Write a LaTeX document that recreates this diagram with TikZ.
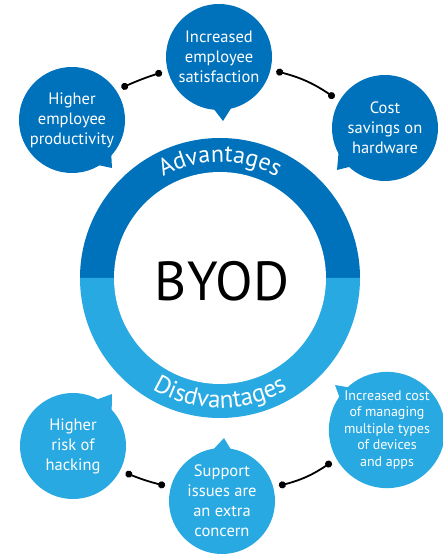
\documentclass[tikz,border=0pt]{standalone}
\usepackage{fontspec}
\setmainfont{PT Sans}
\newfontfamily\arcfont[LetterSpace=5.0]{PT Sans}
\usepackage{tikz}
\usetikzlibrary{calc}
\usetikzlibrary{arrows.meta}
\usetikzlibrary{decorations.text}
\usetikzlibrary{backgrounds}
\definecolor{advblue}{RGB}{0,114,188}
\definecolor{disblue}{RGB}{41,169,225}

\begin{document}
\begin{tikzpicture}[x=1pt,y=1pt,
       bubble/.style={circle, minimum size=106pt, inner sep=0pt, outer sep=6pt, text=white, align=center, font=\fontsize{16.5}{20}\selectfont},
       adv/.style={bubble, fill=advblue},
       dis/.style={bubble, fill=disblue},
       link/.style={black, line width=1.8pt, {Circle[length=7pt]}-{Circle[length=7pt]}}]
       \useasboundingbox (0,0) rectangle (443,560);
       \coordinate (O) at (220,282);

       \fill[advblue] (O) ++(0:140) arc[start angle=0, end angle=180, radius=140pt] -- cycle;
       \fill[disblue] (O) ++(180:140) arc[start angle=180, end angle=360, radius=140pt] -- cycle;
       \fill[white] (O) circle (106pt);
       \node (byod) at (222,279) {\fontsize{55}{55}\selectfont BYOD};

       \path[decorate, decoration={text along path, text align=center, text color=white,
              text={|\arcfont\fontsize{24}{24}\selectfont|Advantages}}]
              (O) ++(155:116) arc[start angle=155, end angle=25, radius=116pt];
       \path[decorate, decoration={text along path, text align=center, text color=white,
              text={|\arcfont\fontsize{25}{25}\selectfont|Disdvantages}}]
              (O) ++(198:130) arc[start angle=198, end angle=342, radius=130pt];

       \node[adv] (A1) at (72,440) {Higher\\employee\\productivity};
       \node[adv] (A2) at (219,503) {Increased\\employee\\satisfaction};
       \node[adv] (A3) at (385,432) {Cost\\savings on\\hardware};
       \node[dis] (D1) at (73,114) {Higher\\risk of\\hacking};
       \node[dis] (D2) at (222,59) {Support\\issues are\\an extra\\concern};
       \node[dis, font=\fontsize{14}{16.5}\selectfont] (D3) at (387,130) {Increased cost\\of managing\\multiple types\\of devices\\and apps};

       \begin{scope}[on background layer]
       \fill[advblue] ($(A1)+(-41:52)$) -- (112,392) -- ($(A1)+(-60:52)$) -- cycle;
       \fill[advblue] ($(A2)+(-76:52)$) -- (223,439) -- ($(A2)+(-96:52)$) -- cycle;
       \fill[advblue] ($(A3)+(207:52)$) -- (337,390) -- ($(A3)+(228:52)$) -- cycle;
       \fill[disblue] ($(D1)+(42:52)$) -- (112,166) -- ($(D1)+(63:52)$) -- cycle;
       \fill[disblue] ($(D2)+(80:52)$) -- (224,122) -- ($(D2)+(100:52)$) -- cycle;
       \fill[disblue] ($(D3)+(152:50)$) -- (335,175) -- ($(D3)+(125:50)$) -- cycle;
       \end{scope}

       \draw[link] (A1.33) to[bend left=3] (A2.195);
       \draw[link] (A2.-14) to[bend left=10] (A3.149);
       \draw[link] (D1.-27) to[bend right=4] (D2.165);
       \draw[link] (D2.15) to[bend right=10] (D3.210);
\end{tikzpicture}
\end{document}
